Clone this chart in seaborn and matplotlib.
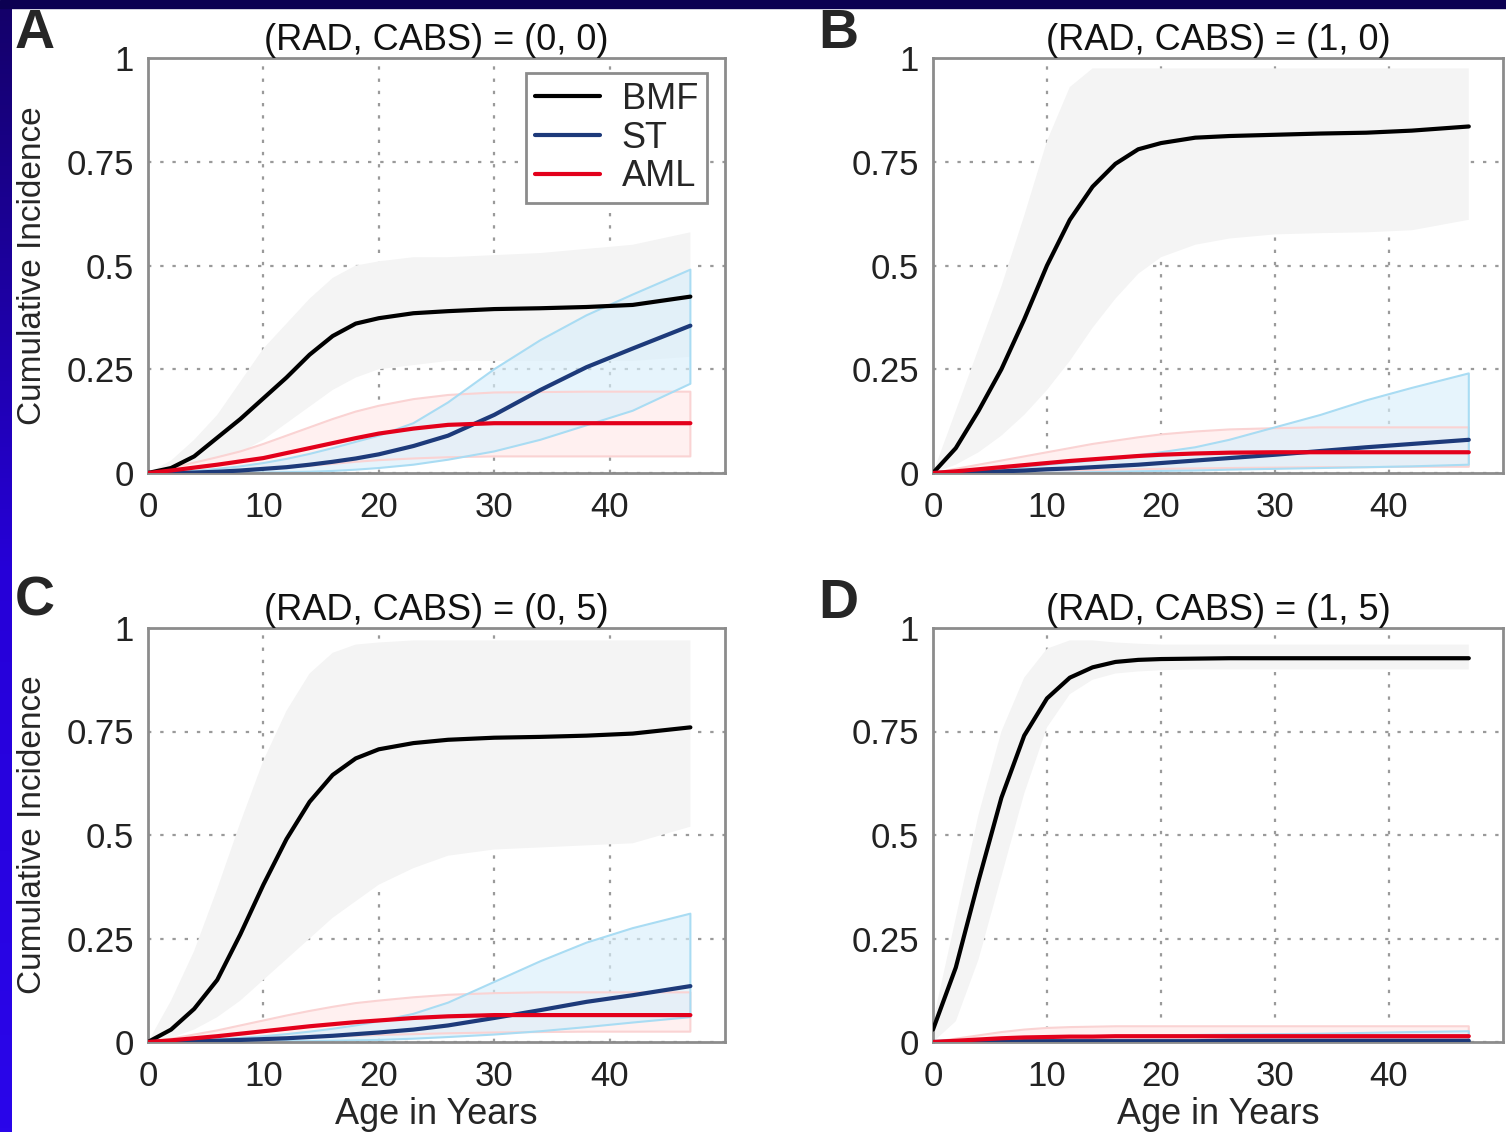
import numpy as np
import pandas as pd
import seaborn as sns
from matplotlib import pyplot as plt
from matplotlib.colors import LinearSegmentedColormap

ages = [0, 2, 4, 6, 8, 10, 12, 14, 16, 18, 20, 23, 26, 30, 34, 38, 42, 47]

# panel A: (RAD, CABS) = (0, 0)
bmf_a    = [0, 0.012, 0.04, 0.085, 0.13, 0.18, 0.23, 0.285, 0.33, 0.36, 0.373, 0.385, 0.39, 0.395, 0.397, 0.40, 0.405, 0.425]
bmf_a_lo = [0, 0.002, 0.01, 0.025, 0.05, 0.08, 0.12, 0.16, 0.20, 0.23, 0.25, 0.26, 0.27, 0.27, 0.27, 0.27, 0.27, 0.28]
bmf_a_hi = [0, 0.03, 0.08, 0.14, 0.22, 0.30, 0.36, 0.42, 0.47, 0.50, 0.51, 0.52, 0.52, 0.525, 0.53, 0.54, 0.55, 0.58]
st_a     = [0, 0, 0.001, 0.003, 0.006, 0.01, 0.014, 0.02, 0.027, 0.035, 0.045, 0.065, 0.09, 0.14, 0.20, 0.255, 0.30, 0.355]
st_a_lo  = [0, 0, 0, 0, 0, 0.001, 0.002, 0.003, 0.005, 0.008, 0.012, 0.02, 0.032, 0.052, 0.08, 0.115, 0.15, 0.215]
st_a_hi  = [0, 0.002, 0.005, 0.01, 0.016, 0.024, 0.034, 0.046, 0.06, 0.075, 0.09, 0.12, 0.17, 0.25, 0.32, 0.38, 0.43, 0.49]
aml_a    = [0, 0.006, 0.013, 0.02, 0.028, 0.036, 0.048, 0.06, 0.072, 0.084, 0.095, 0.107, 0.116, 0.12, 0.12, 0.12, 0.12, 0.12]
aml_a_lo = [0, 0.001, 0.002, 0.004, 0.006, 0.009, 0.013, 0.017, 0.022, 0.027, 0.031, 0.035, 0.038, 0.04, 0.04, 0.04, 0.04, 0.04]
aml_a_hi = [0, 0.012, 0.025, 0.038, 0.052, 0.07, 0.09, 0.11, 0.13, 0.148, 0.162, 0.178, 0.188, 0.194, 0.195, 0.196, 0.196, 0.196]

# panel B: (RAD, CABS) = (1, 0)
bmf_b    = [0, 0.06, 0.15, 0.25, 0.37, 0.50, 0.61, 0.69, 0.745, 0.78, 0.795, 0.808, 0.812, 0.815, 0.818, 0.82, 0.825, 0.835]
bmf_b_lo = [0, 0.02, 0.05, 0.09, 0.14, 0.20, 0.27, 0.35, 0.42, 0.48, 0.52, 0.55, 0.565, 0.575, 0.578, 0.58, 0.585, 0.61]
bmf_b_hi = [0, 0.15, 0.30, 0.45, 0.62, 0.80, 0.93, 0.975, 0.975, 0.975, 0.975, 0.975, 0.975, 0.975, 0.975, 0.975, 0.975, 0.975]
st_b     = [0, 0.001, 0.002, 0.004, 0.006, 0.009, 0.011, 0.014, 0.017, 0.02, 0.024, 0.03, 0.036, 0.044, 0.053, 0.062, 0.07, 0.08]
st_b_lo  = [0, 0, 0, 0, 0, 0.001, 0.001, 0.002, 0.003, 0.004, 0.005, 0.006, 0.008, 0.01, 0.012, 0.014, 0.016, 0.02]
st_b_hi  = [0, 0.003, 0.006, 0.01, 0.014, 0.02, 0.025, 0.03, 0.036, 0.043, 0.05, 0.062, 0.08, 0.11, 0.14, 0.175, 0.205, 0.24]
aml_b    = [0, 0.004, 0.009, 0.014, 0.019, 0.024, 0.029, 0.033, 0.037, 0.041, 0.044, 0.047, 0.049, 0.05, 0.05, 0.05, 0.05, 0.05]
aml_b_lo = [0, 0.001, 0.002, 0.003, 0.004, 0.005, 0.006, 0.007, 0.008, 0.009, 0.01, 0.011, 0.012, 0.013, 0.014, 0.014, 0.015, 0.015]
aml_b_hi = [0, 0.01, 0.02, 0.03, 0.04, 0.05, 0.06, 0.07, 0.078, 0.086, 0.093, 0.10, 0.105, 0.108, 0.11, 0.11, 0.11, 0.11]

# panel C: (RAD, CABS) = (0, 5)
bmf_c    = [0, 0.03, 0.08, 0.15, 0.26, 0.38, 0.49, 0.58, 0.645, 0.685, 0.707, 0.722, 0.73, 0.735, 0.737, 0.74, 0.745, 0.76]
bmf_c_lo = [0, 0.01, 0.03, 0.06, 0.10, 0.15, 0.20, 0.25, 0.30, 0.34, 0.38, 0.42, 0.45, 0.465, 0.47, 0.475, 0.48, 0.52]
bmf_c_hi = [0, 0.10, 0.22, 0.37, 0.53, 0.68, 0.80, 0.89, 0.94, 0.96, 0.965, 0.97, 0.97, 0.97, 0.97, 0.97, 0.97, 0.97]
st_c     = [0, 0.001, 0.002, 0.003, 0.005, 0.007, 0.009, 0.012, 0.015, 0.019, 0.023, 0.03, 0.04, 0.058, 0.077, 0.097, 0.113, 0.135]
st_c_lo  = [0, 0, 0, 0, 0.001, 0.001, 0.002, 0.002, 0.003, 0.004, 0.005, 0.008, 0.012, 0.018, 0.026, 0.036, 0.047, 0.06]
st_c_hi  = [0, 0.002, 0.004, 0.007, 0.01, 0.014, 0.019, 0.025, 0.032, 0.04, 0.05, 0.068, 0.095, 0.145, 0.195, 0.24, 0.275, 0.31]
aml_c    = [0, 0.004, 0.009, 0.014, 0.02, 0.026, 0.032, 0.038, 0.043, 0.048, 0.052, 0.058, 0.062, 0.065, 0.065, 0.065, 0.065, 0.065]
aml_c_lo = [0, 0.001, 0.002, 0.003, 0.005, 0.007, 0.009, 0.011, 0.013, 0.015, 0.017, 0.019, 0.021, 0.023, 0.024, 0.025, 0.025, 0.025]
aml_c_hi = [0, 0.008, 0.018, 0.028, 0.04, 0.052, 0.064, 0.075, 0.085, 0.094, 0.10, 0.108, 0.114, 0.118, 0.12, 0.12, 0.12, 0.12]

# panel D: (RAD, CABS) = (1, 5)
bmf_d    = [0.03, 0.18, 0.39, 0.59, 0.74, 0.83, 0.88, 0.905, 0.918, 0.923, 0.925, 0.926, 0.927, 0.927, 0.927, 0.927, 0.927, 0.927]
bmf_d_lo = [0, 0.05, 0.20, 0.40, 0.60, 0.76, 0.84, 0.875, 0.89, 0.895, 0.898, 0.9, 0.9, 0.9, 0.9, 0.9, 0.9, 0.9]
bmf_d_hi = [0.05, 0.30, 0.55, 0.75, 0.88, 0.95, 0.97, 0.97, 0.965, 0.962, 0.96, 0.96, 0.96, 0.96, 0.96, 0.96, 0.96, 0.96]
st_d     = [0, 0.001, 0.001, 0.001, 0.002, 0.002, 0.002, 0.002, 0.002, 0.002, 0.002, 0.002, 0.003, 0.003, 0.003, 0.003, 0.003, 0.003]
st_d_lo  = [0, 0, 0, 0, 0, 0, 0, 0, 0, 0, 0, 0, 0, 0, 0, 0, 0, 0]
st_d_hi  = [0, 0.003, 0.005, 0.007, 0.009, 0.011, 0.012, 0.013, 0.014, 0.015, 0.016, 0.017, 0.018, 0.019, 0.02, 0.022, 0.024, 0.026]
aml_d    = [0, 0.003, 0.006, 0.009, 0.011, 0.012, 0.013, 0.013, 0.014, 0.014, 0.014, 0.014, 0.014, 0.014, 0.014, 0.014, 0.014, 0.014]
aml_d_lo = [0, 0, 0.001, 0.001, 0.002, 0.002, 0.002, 0.003, 0.003, 0.003, 0.003, 0.003, 0.003, 0.003, 0.003, 0.003, 0.003, 0.003]
aml_d_hi = [0, 0.008, 0.016, 0.024, 0.03, 0.034, 0.036, 0.037, 0.038, 0.038, 0.038, 0.038, 0.038, 0.038, 0.038, 0.038, 0.038, 0.038]

panels = {
    "A": ("(RAD, CABS) = (0, 0)", [(bmf_a, bmf_a_lo, bmf_a_hi), (st_a, st_a_lo, st_a_hi), (aml_a, aml_a_lo, aml_a_hi)]),
    "B": ("(RAD, CABS) = (1, 0)", [(bmf_b, bmf_b_lo, bmf_b_hi), (st_b, st_b_lo, st_b_hi), (aml_b, aml_b_lo, aml_b_hi)]),
    "C": ("(RAD, CABS) = (0, 5)", [(bmf_c, bmf_c_lo, bmf_c_hi), (st_c, st_c_lo, st_c_hi), (aml_c, aml_c_lo, aml_c_hi)]),
    "D": ("(RAD, CABS) = (1, 5)", [(bmf_d, bmf_d_lo, bmf_d_hi), (st_d, st_d_lo, st_d_hi), (aml_d, aml_d_lo, aml_d_hi)]),
}
outcomes = ["BMF", "ST", "AML"]
line_colors = {"BMF": "#000000", "ST": "#1d3a7a", "AML": "#e3001b"}
band_fill = {"BMF": "#f4f4f4", "ST": "#d9effb", "AML": "#fff0f0"}
band_alpha = {"BMF": 1.0, "ST": 0.65, "AML": 1.0}
band_edge = {"BMF": "none", "ST": "#a9dcf3", "AML": "#fad3d3"}
band_order = ["BMF", "AML", "ST"]

sns.set_theme(style="white")
plt.rcParams["font.family"] = ["Liberation Sans", "DejaVu Sans"]

fig = plt.figure(figsize=(15.06, 11.32), dpi=100)

# dark frame of the slide
fig.patches.append(plt.Rectangle((0, 1 - 8 / 1132), 1, 8 / 1132, transform=fig.transFigure,
                                 color="#0c0052", zorder=0))
strip = fig.add_axes([0, 0, 12 / 1506, 1 - 8 / 1132])
grad = np.linspace(0, 1, 256).reshape(-1, 1)
strip.imshow(grad, aspect="auto", origin="upper",
             cmap=LinearSegmentedColormap.from_list("frame", ["#14006a", "#2600d8", "#2a06ea"]))
strip.axis("off")

positions = {
    "A": [148 / 1506, 1 - 473 / 1132, 577 / 1506, 415 / 1132],
    "B": [933 / 1506, 1 - 473 / 1132, 570 / 1506, 415 / 1132],
    "C": [148 / 1506, 1 - 1042 / 1132, 577 / 1506, 414 / 1132],
    "D": [933 / 1506, 1 - 1042 / 1132, 570 / 1506, 414 / 1132],
}

for key, (title, series) in panels.items():
    ax = fig.add_axes(positions[key])
    bands = dict(zip(outcomes, series))
    for name in band_order:
        est, lo, hi = bands[name]
        ax.fill_between(ages, lo, hi, facecolor=band_fill[name], alpha=band_alpha[name],
                        edgecolor="none", zorder=1)
        if band_edge[name] != "none":
            ax.fill_between(ages, lo, hi, facecolor="none", edgecolor=band_edge[name],
                            linewidth=1.5, zorder=1.5)
    for name, (est, lo, hi) in zip(outcomes, series):
        df = pd.DataFrame({"age": ages, "value": est})
        sns.lineplot(data=df, x="age", y="value", color=line_colors[name], linewidth=3.0,
                     ax=ax, label=name if key == "A" else None, zorder=3)
    ax.set_xlim(0, 50)
    ax.set_ylim(0, 1)
    ax.set_xticks([0, 10, 20, 30, 40])
    ax.set_yticks([0, 0.25, 0.5, 0.75, 1])
    ax.set_yticklabels(["0", "0.25", "0.5", "0.75", "1"])
    ax.grid(True, linestyle=(0, (1.5, 4)), color="#9a9a9a", linewidth=1.6)
    ax.set_axisbelow(True)
    for sp in ax.spines.values():
        sp.set_color("#8c8c8c")
        sp.set_linewidth(2)
    ax.tick_params(axis="both", labelsize=25, labelcolor="#222222", color="#8c8c8c",
                   length=4, width=1.5, direction="out")
    ax.tick_params(axis="x", pad=9)
    ax.tick_params(axis="y", pad=6)
    ax.set_title(title, fontsize=26, pad=6, color="#111111")
    ax.set_xlabel("Age in Years" if key in ("C", "D") else "", fontsize=26, labelpad=3)
    ax.set_ylabel("Cumulative Incidence" if key in ("A", "C") else "", fontsize=24, labelpad=13)
    if key == "A":
        ax.legend(loc="upper right", bbox_to_anchor=(0.969, 0.964), borderaxespad=0,
                  fontsize=26, frameon=True, fancybox=False, edgecolor="#8c8c8c",
                  framealpha=1, handlelength=1.8, labelspacing=0.1, borderpad=0.25,
                  handletextpad=0.6)
        ax.get_legend().get_frame().set_linewidth(2)
    elif ax.get_legend() is not None:
        ax.get_legend().remove()

letters = {"A": (15, 8), "B": (818, 8), "C": (15, 576), "D": (818, 578)}
for key, (px, py) in letters.items():
    fig.text(px / 1506, 1 - py / 1132, key, fontsize=40, fontweight="bold", va="top", ha="left")

fig.savefig("out.png", dpi=100, facecolor="white")
